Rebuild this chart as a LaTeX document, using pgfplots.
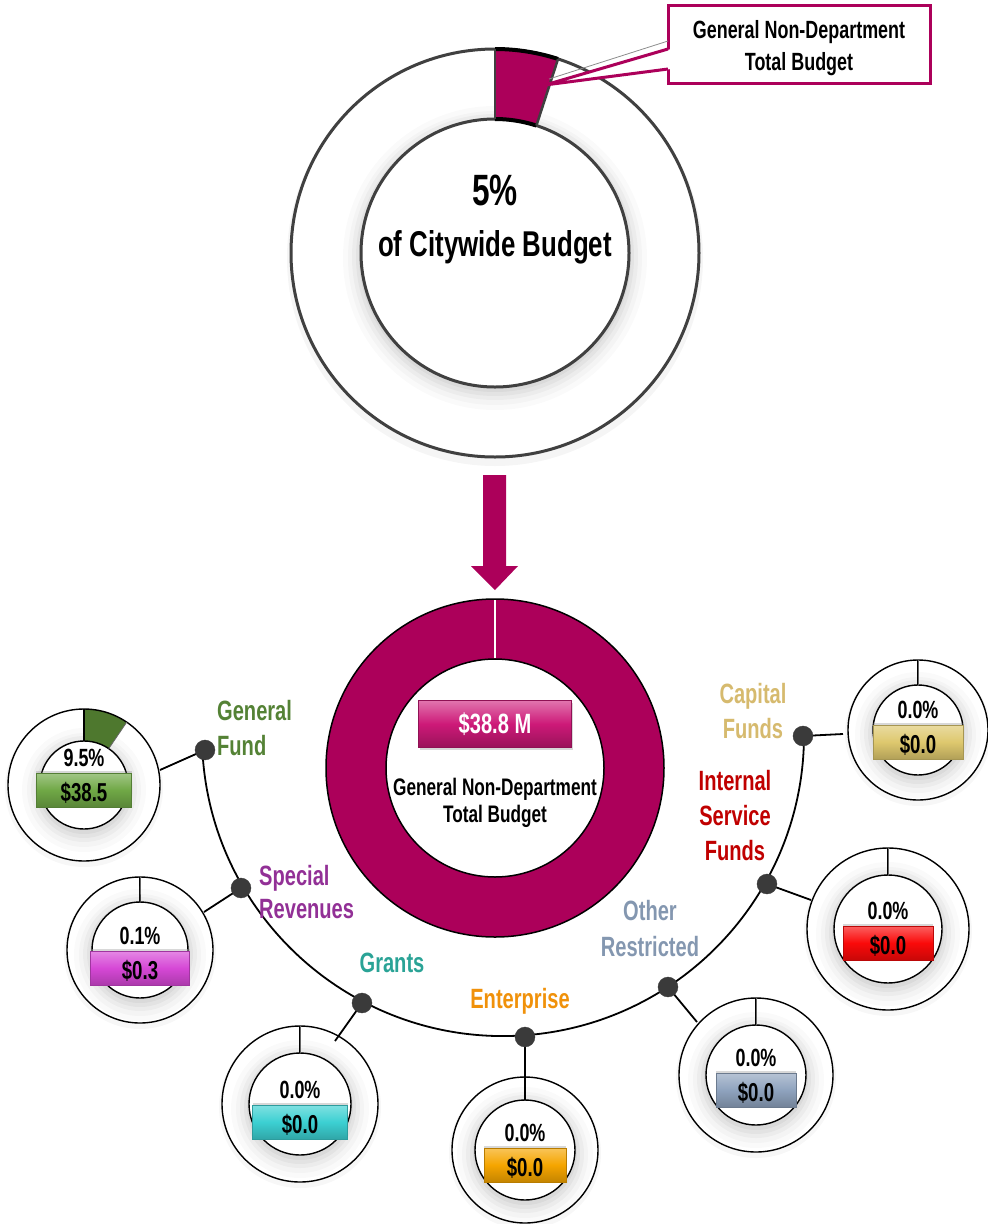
\documentclass[border=0pt]{standalone}
\usepackage{pgfplots}
\pgfplotsset{compat=1.18}
\usepackage{fontspec}
\setmainfont{Liberation Sans}[FakeStretch=0.72]
\usetikzlibrary{shadows}

\definecolor{mag}{RGB}{172,0,90}
\definecolor{magbox}{RGB}{205,25,120}
\definecolor{ringgray}{RGB}{64,64,64}
\definecolor{dotgray}{RGB}{58,58,58}
% fund colours: label, box, slice
\definecolor{GFlab}{RGB}{84,130,53}
\definecolor{GFbox}{RGB}{112,168,70}
\definecolor{GFslice}{RGB}{78,120,46}
\definecolor{SRlab}{RGB}{146,48,150}
\definecolor{SRbox}{RGB}{214,72,214}
\definecolor{SRslice}{RGB}{146,48,150}
\definecolor{GRlab}{RGB}{42,163,150}
\definecolor{GRbox}{RGB}{60,208,210}
\definecolor{GRslice}{RGB}{42,163,150}
\definecolor{ENlab}{RGB}{240,145,10}
\definecolor{ENbox}{RGB}{245,165,0}
\definecolor{ENslice}{RGB}{240,145,10}
\definecolor{ORlab}{RGB}{132,151,176}
\definecolor{ORbox}{RGB}{143,163,190}
\definecolor{ORslice}{RGB}{132,151,176}
\definecolor{ISlab}{RGB}{192,0,0}
\definecolor{ISbox}{RGB}{250,10,10}
\definecolor{ISslice}{RGB}{192,0,0}
\definecolor{CFlab}{RGB}{214,186,110}
\definecolor{CFbox}{RGB}{222,200,110}
\definecolor{CFslice}{RGB}{214,186,110}

\newcommand{\fs}[1]{\fontsize{#1}{#1}\selectfont\bfseries}

\tikzset{
  txt/.style={inner sep=0pt, anchor=base},
  valbox/.style={draw=#1!75!black, line width=0.6bp, top color=#1!65!white,
    bottom color=#1!80!black, middle color=#1, minimum height=34bp, inner sep=0pt,
    drop shadow={shadow xshift=0bp, shadow yshift=2.5bp, opacity=0.3}},
}

% soft shadow under a circle of radius #1 (bp), inside a shifted scope
\newcommand{\softshadow}[1]{%
  \fill[black, opacity=0.02] (0bp,-5bp) circle[radius={(#1+18)*1bp}];
  \fill[black, opacity=0.025] (0bp,-5bp) circle[radius={(#1+13)*1bp}];
  \fill[black, opacity=0.03] (0bp,-4bp) circle[radius={(#1+9)*1bp}];
  \fill[black, opacity=0.035] (0bp,-4bp) circle[radius={(#1+5)*1bp}];
  \fill[black, opacity=0.04] (0bp,-3bp) circle[radius={(#1+2)*1bp}];
}

% cx, cy, outer r, inner r, percent, amount, colour prefix, box width, box top
\newcommand{\smalldonut}[9]{%
  \begin{scope}[shift={(axis cs:#1,#2)}]
    \fill[black, opacity=0.03] (0bp,-3bp) circle[radius={(#3+3)*1bp}];
    \fill[white] (0bp,0bp) circle[radius=#3bp];
    \softshadow{#4}
    \fill[white] (0bp,0bp) circle[radius=#4bp];
    \fill[#7slice] (90:#3bp) arc[start angle=90, end angle={90-3.6*#5}, radius=#3bp]
      -- ({90-3.6*#5}:#4bp) arc[start angle={90-3.6*#5}, end angle=90, radius=#4bp] -- cycle;
    \draw[line width=1.4bp] (0bp,0bp) circle[radius=#3bp];
    \draw[line width=1.4bp] (0bp,0bp) circle[radius=#4bp];
    \draw[line width=1.4bp] (90:#4bp) -- (90:#3bp);
    \draw[line width=0.8bp, black!60] ({90-3.6*#5}:#4bp) -- ({90-3.6*#5}:#3bp);
  \end{scope}
  \node[valbox=#7box, minimum width=#8bp] at (axis cs:#1,{#9+17}) {};
  \node[txt, font=\fs{25}] at (axis cs:#1,{#9-7}) {#5\%};
  \node[txt, font=\fs{26}] at (axis cs:#1,{#9+28}) {\$#6};
}

\begin{document}
\begin{tikzpicture}
\begin{axis}[x=1bp, y=1bp, y dir=reverse, xmin=0, xmax=988, ymin=0, ymax=1224,
  hide axis, clip=false, scale only axis]

% ---------- top donut: share of citywide budget ----------
\begin{scope}[shift={(axis cs:495,253)}]
  \fill[black, opacity=0.04] (0bp,-5bp) circle[radius=208bp];
  \fill[white] (0bp,0bp) circle[radius=204bp];
  \softshadow{134}
  \fill[white] (0bp,0bp) circle[radius=134bp];
  \fill[mag] (90:204bp) arc[start angle=90, end angle={90-3.6*5}, radius=204bp]
    -- ({90-3.6*5}:134bp) arc[start angle={90-3.6*5}, end angle=90, radius=134bp] -- cycle;
  \draw[ringgray, line width=3bp] (0bp,0bp) circle[radius=204bp];
  \draw[ringgray, line width=3bp] (0bp,0bp) circle[radius=134bp];
  \draw[black, line width=4bp] (90:204bp) arc[start angle=90, end angle={90-3.6*5}, radius=204bp];
  \draw[black, line width=4bp] (90:134bp) arc[start angle=90, end angle={90-3.6*5}, radius=134bp];
  \draw[ringgray, line width=2.5bp] (90:134bp) -- (90:204bp);
  \draw[ringgray, line width=2.5bp] ({90-3.6*5}:134bp) -- ({90-3.6*5}:204bp);
\end{scope}
\node[txt, font=\fs{44}] at (axis cs:495,205) {5\%};
\node[txt, font=\fs{36}] at (axis cs:495,256) {of Citywide Budget};

% callout
\draw[mag, line width=3bp, fill=white] (axis cs:668,5) rectangle (axis cs:930,83);
\fill[white] (axis cs:671,49) -- (axis cs:545,85) -- (axis cs:671,69) -- cycle;
\draw[black!45, line width=0.8bp] (axis cs:668,41) -- (axis cs:549,79);
\draw[mag, line width=3bp] (axis cs:668,49) -- (axis cs:545,85) -- (axis cs:668,69);
\node[txt, font=\fs{25}] at (axis cs:799,38) {General Non-Department};
\node[txt, font=\fs{25}] at (axis cs:799,70) {Total Budget};

% arrow
\fill[mag] (axis cs:483,475) -- (axis cs:506,475) -- (axis cs:506,566) -- (axis cs:518,566)
  -- (axis cs:495,590) -- (axis cs:471,566) -- (axis cs:483,566) -- cycle;

% ---------- big donut: department total ----------
\begin{scope}[shift={(axis cs:495,768)}]
  \fill[mag] (90:169bp) arc[start angle=90, end angle={90-3.6*100}, radius=169bp]
    -- ({90-3.6*100}:109bp) arc[start angle={90-3.6*100}, end angle=90, radius=109bp] -- cycle;
  \fill[white] (0bp,0bp) circle[radius=109bp];
  \draw[black, line width=1.5bp] (0bp,0bp) circle[radius=169bp];
  \draw[black, line width=1.5bp] (0bp,0bp) circle[radius=109bp];
  \draw[white, line width=1.6bp] (90:110bp) -- (90:168bp);
\end{scope}
\node[draw=magbox!70!black, line width=0.6bp, top color=magbox!60!white, bottom color=magbox!75!black,
  middle color=magbox, minimum width=153bp, minimum height=47bp, inner sep=0pt,
  drop shadow={shadow xshift=1bp, shadow yshift=-2bp, opacity=0.3}] at (axis cs:495,724) {};
\node[txt, font=\fs{28}, white] at (axis cs:495,733) {\$38.8 M};
\node[txt, font=\fs{24}] at (axis cs:495,795) {General Non-Department};
\node[txt, font=\fs{24}] at (axis cs:495,822) {Total Budget};

% ---------- fund breakdown ----------
\draw[black, line width=1.8bp] (axis cs:202.4,750.8) arc[start angle=183, end angle=360, radius=301bp];
\draw[black, line width=1.8bp] (axis cs:205,750) -- (axis cs:160,770);
\draw[black, line width=1.8bp] (axis cs:241,888) -- (axis cs:204,912);
\draw[black, line width=1.8bp] (axis cs:803,736) -- (axis cs:843,734);
\draw[black, line width=1.8bp] (axis cs:767,884) -- (axis cs:811,900);
\draw[black, line width=1.8bp] (axis cs:668,987) -- (axis cs:697,1022);

\smalldonut{84}{785}{76}{44}{9.5}{38.5}{GF}{95}{773}
\smalldonut{140}{950}{73}{48}{0.1}{0.3}{SR}{99}{951}
\smalldonut{300}{1104}{78}{51}{0.0}{0.0}{GR}{95}{1105}
\smalldonut{525}{1150}{73}{50}{0.0}{0.0}{EN}{82}{1148}
\smalldonut{756}{1075}{77}{50}{0.0}{0.0}{OR}{80}{1073}
\smalldonut{888}{929}{81}{54}{0.0}{0.0}{IS}{90}{926}
\smalldonut{918}{730}{70}{45}{0.0}{0.0}{CF}{90}{725}

\draw[black, line width=1.8bp] (axis cs:362,1003) -- (axis cs:335,1041);
\draw[black, line width=1.8bp] (axis cs:525,1037) -- (axis cs:525,1100);

\addplot[only marks, mark=*, mark size=10, draw=dotgray, fill=dotgray]
  coordinates {(205,750) (241,888) (362,1003) (525,1037) (668,987) (767,884) (803,736)};

% labels
\node[txt, anchor=base west, font=\fs{28}, GFlab] at (axis cs:217,720) {General};
\node[txt, anchor=base west, font=\fs{28}, GFlab] at (axis cs:217,755) {Fund};
\node[txt, anchor=base west, font=\fs{28}, SRlab] at (axis cs:259,885) {Special};
\node[txt, anchor=base west, font=\fs{28}, SRlab] at (axis cs:259,918) {Revenues};
\node[txt, font=\fs{28}, GRlab] at (axis cs:392,972) {Grants};
\node[txt, font=\fs{28}, ENlab] at (axis cs:520,1008) {Enterprise};
\node[txt, font=\fs{28}, ORlab] at (axis cs:650,920) {Other};
\node[txt, font=\fs{28}, ORlab] at (axis cs:650,956) {Restricted};
\node[txt, font=\fs{28}, ISlab] at (axis cs:735,790) {Internal};
\node[txt, font=\fs{28}, ISlab] at (axis cs:735,825) {Service};
\node[txt, font=\fs{28}, ISlab] at (axis cs:735,860) {Funds};
\node[txt, font=\fs{28}, CFlab] at (axis cs:753,703) {Capital};
\node[txt, font=\fs{28}, CFlab] at (axis cs:753,738) {Funds};
\end{axis}
\pgfresetboundingbox
\path[use as bounding box] (current axis.south west) rectangle (current axis.north east);
\end{tikzpicture}
\end{document}
